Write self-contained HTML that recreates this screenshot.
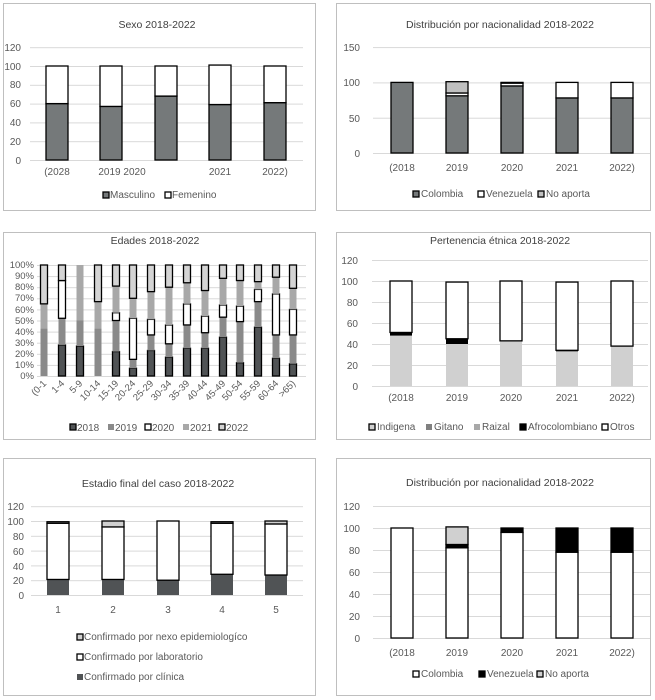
<!DOCTYPE html>
<html><head><meta charset="utf-8"><style>
html,body{margin:0;padding:0;background:#fff;width:655px;height:700px;overflow:hidden}
svg{display:block;font-family:"Liberation Sans",sans-serif;font-size:10px;fill:#595959}
.t{font-size:10.5px;fill:#404040}
.y{text-anchor:end}
.c{text-anchor:middle}
</style></head><body>
<svg id="s" width="655" height="700" xmlns="http://www.w3.org/2000/svg">
<g fill="none" stroke="#bfbfbf" stroke-width="1">
<rect x="3.5" y="3.5" width="312" height="207"/>
<rect x="336.5" y="3.5" width="314" height="207"/>
<rect x="3.5" y="232.5" width="312" height="207"/>
<rect x="336.5" y="232.5" width="314" height="207"/>
<rect x="3.5" y="458.5" width="312" height="237"/>
<rect x="336.5" y="458.5" width="314" height="237"/>
</g>
<g id="g"></g>
<!-- Panel 1 -->
<text class="t c" x="157" y="28">Sexo 2018-2022</text>
<text class="y" x="21" y="51">120</text><text class="y" x="21" y="70">100</text><text class="y" x="21" y="88">80</text><text class="y" x="21" y="107">60</text><text class="y" x="21" y="126">40</text><text class="y" x="21" y="145">20</text><text class="y" x="21" y="164">0</text>
<text class="c" x="57" y="175">(2028</text><text class="c" x="122" y="175">2019 2020</text><text class="c" x="220" y="175">2021</text><text class="c" x="275" y="175">2022)</text>
<text x="110" y="198">Masculino</text><text x="172" y="198">Femenino</text>
<!-- Panel 2 -->
<text class="t c" x="500" y="28">Distribución por nacionalidad 2018-2022</text>
<text class="y" x="360" y="51">150</text><text class="y" x="360" y="86">100</text><text class="y" x="360" y="122">50</text><text class="y" x="360" y="157">0</text>
<text class="c" x="402" y="171">(2018</text><text class="c" x="457" y="171">2019</text><text class="c" x="512" y="171">2020</text><text class="c" x="567" y="171">2021</text><text class="c" x="622" y="171">2022)</text>
<text x="421" y="197">Colombia</text><text x="486" y="197">Venezuela</text><text x="546" y="197">No aporta</text>
<!-- Panel 3 -->
<text class="t c" x="155" y="244">Edades 2018-2022</text>
<g class="y" style="font-size:9.5px">
<text class="y" x="34" y="268">100%</text><text class="y" x="34" y="279">90%</text><text class="y" x="34" y="290">80%</text><text class="y" x="34" y="301">70%</text><text class="y" x="34" y="313">60%</text><text class="y" x="34" y="324">50%</text><text class="y" x="34" y="335">40%</text><text class="y" x="34" y="346">30%</text><text class="y" x="34" y="357">20%</text><text class="y" x="34" y="368">10%</text><text class="y" x="34" y="379">0%</text>
</g>
<g style="font-size:9.5px" text-anchor="end">
<text transform="translate(47,384) rotate(-45)">(0-1</text>
<text transform="translate(65,384) rotate(-45)">1-4</text>
<text transform="translate(83,384) rotate(-45)">5-9</text>
<text transform="translate(101,384) rotate(-45)">10-14</text>
<text transform="translate(119,384) rotate(-45)">15-19</text>
<text transform="translate(136,384) rotate(-45)">20-24</text>
<text transform="translate(154,384) rotate(-45)">25-29</text>
<text transform="translate(172,384) rotate(-45)">30-34</text>
<text transform="translate(190,384) rotate(-45)">35-39</text>
<text transform="translate(208,384) rotate(-45)">40-44</text>
<text transform="translate(226,384) rotate(-45)">45-49</text>
<text transform="translate(243,384) rotate(-45)">50-54</text>
<text transform="translate(261,384) rotate(-45)">55-59</text>
<text transform="translate(279,384) rotate(-45)">60-64</text>
<text transform="translate(296,384) rotate(-45)">&gt;65)</text>
</g>
<text x="77" y="431">2018</text><text x="115" y="431">2019</text><text x="152" y="431">2020</text><text x="190" y="431">2021</text><text x="226" y="431">2022</text>
<!-- Panel 4 -->
<text class="t c" x="500" y="244">Pertenencia étnica 2018-2022</text>
<text class="y" x="358" y="264">120</text><text class="y" x="358" y="285">100</text><text class="y" x="358" y="306">80</text><text class="y" x="358" y="327">60</text><text class="y" x="358" y="348">40</text><text class="y" x="358" y="369">20</text><text class="y" x="358" y="390">0</text>
<text class="c" x="401" y="401">(2018</text><text class="c" x="457" y="401">2019</text><text class="c" x="511" y="401">2020</text><text class="c" x="567" y="401">2021</text><text class="c" x="622" y="401">2022)</text>
<text x="377" y="430">Indigena</text><text x="434" y="430">Gitano</text><text x="482" y="430">Raizal</text><text x="528" y="430">Afrocolombiano</text><text x="610" y="430">Otros</text>
<!-- Panel 5 -->
<text class="t c" x="158" y="487">Estadio final del caso 2018-2022</text>
<text class="y" x="24" y="510">120</text><text class="y" x="24" y="525">100</text><text class="y" x="24" y="540">80</text><text class="y" x="24" y="555">60</text><text class="y" x="24" y="570">40</text><text class="y" x="24" y="584">20</text><text class="y" x="24" y="599">0</text>
<text class="c" x="58" y="613">1</text><text class="c" x="113" y="613">2</text><text class="c" x="168" y="613">3</text><text class="c" x="222" y="613">4</text><text class="c" x="276" y="613">5</text>
<text x="84" y="640">Confirmado por nexo epidemiologíco</text>
<text x="84" y="660">Confirmado por laboratorio</text>
<text x="84" y="680">Confirmado por clínica</text>
<!-- Panel 6 -->
<text class="t c" x="500" y="486">Distribución por nacionalidad 2018-2022</text>
<text class="y" x="360" y="510">120</text><text class="y" x="360" y="532">100</text><text class="y" x="360" y="554">80</text><text class="y" x="360" y="576">60</text><text class="y" x="360" y="598">40</text><text class="y" x="360" y="620">20</text><text class="y" x="360" y="642">0</text>
<text class="c" x="402" y="656">(2018</text><text class="c" x="457" y="656">2019</text><text class="c" x="512" y="656">2020</text><text class="c" x="567" y="656">2021</text><text class="c" x="622" y="656">2022)</text>
<text x="421" y="677">Colombia</text><text x="487" y="677">Venezuela</text><text x="545" y="677">No aporta</text>
</svg>
<script>
var g=document.getElementById('g'),NS='http://www.w3.org/2000/svg';
function r(x,y,w,h,f,s){var e=document.createElementNS(NS,'rect');e.setAttribute('x',x);e.setAttribute('y',y);e.setAttribute('width',w);e.setAttribute('height',Math.max(h,0));e.setAttribute('fill',f);if(s){e.setAttribute('stroke',s);e.setAttribute('stroke-width',1.3);}g.appendChild(e);}
function l(x1,x2,y){r(x1,y,x2-x1,1,'#d9d9d9');}
function chart(o){
 o.grid.forEach(function(v){l(o.x1,o.x2,o.y0-v*o.k);});
 o.bars.forEach(function(b,i){var cx=o.cx[i],c=0;
  b.forEach(function(seg,j){if(seg>0){r(cx-o.w/2,o.y0-(c+seg)*o.k,o.w,seg*o.k,o.col[j],o.st[j]);}c+=seg;});
 });
}
var DG='#75797a';
chart({x1:30,x2:303,y0:160,k:0.94,grid:[0,20,40,60,80,100,120],cx:[57,111,166,220,275],w:22,col:[DG,'#fff'],st:['#000','#000'],bars:[[60,40],[57,43],[68,32],[59,42],[61,39]]});
chart({x1:373,x2:650,y0:153,k:0.706,grid:[0,50,100,150],cx:[402,457,512,567,622],w:22,col:[DG,'#fff','#c0c0c0'],st:['#000','#000','#000'],bars:[[100,0,0],[81,4,16],[95,4,1],[78,22,0],[78,22,0]]});
(function(){var y0=376,k=1.11;[0,10,20,30,40,50,60,70,80,90,100].forEach(function(v){l(37,306,y0-v*k);});
var cx=[44,62,80,98,116,133,151,169,187,205,223,240,258,276,293];
var d=[[0,43,43,65],[28,52,86,86],[27,50,50,100],[0,43,43,67],[22,50,57,81],[7,15,52,70],[23,37,51,76],[17,29,46,80],[25,46,65,84],[25,39,54,77],[35,53,64,88],[12,49,63,86],[44,67,78,85],[16,37,74,89],[11,37,60,79]];
var col=['#505355','#8a8a8a','#fff','#a8a8a8','#d4d4d4'],st=['#000',null,'#000',null,'#000'];
d.forEach(function(b,i){var c=[0].concat(b).concat([100]);for(var j=0;j<5;j++){var h=c[j+1]-c[j];if(h>0)r(cx[i]-3.5,y0-c[j+1]*k,7,h*k,col[j],st[j]);}});
[[70,col[0],'#000'],[108,col[1]],[145,'#fff','#000'],[183,col[3]],[219,col[4],'#000']].forEach(function(a){r(a[0],424,6,6,a[1],a[2]);});
})();
chart({x1:372,x2:648,y0:386,k:1.05,grid:[0,20,40,60,80,100,120],cx:[401,457,511,567,622],w:22,col:['#d0d0d0','#000','#fff'],st:[null,null,'#000'],bars:[[48,3,49],[40,5,54],[43,0,57],[33,1,65],[38,0,62]]});
chart({x1:31,x2:303,y0:595,k:0.74,grid:[0,20,40,60,80,100,120],cx:[58,113,168,222,276],w:22,col:['#505355','#fff','#d0d0d0'],st:[null,'#000','#000'],bars:[[21,76,2],[21,71,8],[20,80,0],[28,69,2],[27,69,4]]});
chart({x1:373,x2:650,y0:638,k:1.1,grid:[0,20,40,60,80,100,120],cx:[402,457,512,567,622],w:22,col:['#fff','#000','#d0d0d0'],st:['#000','#000','#000'],bars:[[100,0,0],[82,3,16],[96,4,0],[78,22,0],[78,22,0]]});
[[103,192,DG],[165,192,'#fff'],[413,191,DG],[478,191,'#fff'],[538,191,'#c0c0c0'],
 [369,424,'#d0d0d0'],[426,424,'#808080'],[474,424,'#a8a8a8'],[520,424,'#000'],[602,424,'#fff'],
 [77,634,'#d0d0d0'],[77,654,'#fff'],[77,674,'#505355'],
 [413,671,'#fff'],[479,671,'#000'],[537,671,'#d0d0d0']].forEach(function(a){r(a[0],a[1],6,6,a[2],(a[2]=='#808080'||a[2]=='#a8a8a8'||a[2]=='#505355')?null:'#000');});
</script>
</body></html>
